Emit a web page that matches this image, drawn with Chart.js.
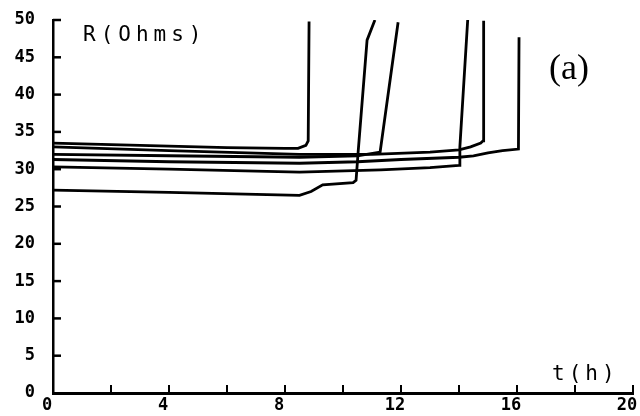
<!DOCTYPE html>
<html>
<head>
<meta charset="utf-8">
<script src="https://cdn.jsdelivr.net/npm/chart.js@4.4.1/dist/chart.umd.min.js"></script>
<style>
  html, body { margin: 0; padding: 0; background: #fff; overflow: hidden; }
  #wrap { width: 640px; height: 416px; position: relative; }
</style>
</head>
<body>
<div id="wrap"><canvas id="c" width="640" height="416"></canvas></div>
<script>
// ---- data ----
const xTickValues = [2, 4, 6, 8, 10, 12, 14, 16, 18, 20];
const xLabelValues = [0, 4, 8, 12, 16, 20];
const yTickValues = [5, 10, 15, 20, 25, 30, 35, 40, 45, 50];

const curveA_t = [0, 2, 4, 6, 8, 8.45, 8.72, 8.8, 8.83];
const curveA_R = [33.5, 33.3, 33.1, 32.9, 32.8, 32.8, 33.2, 33.8, 49.8];

const curveI_t = [0, 4, 8.5, 11, 13, 14, 14.4, 14.75, 14.83, 14.85];
const curveI_R = [33.0, 32.5, 32.0, 32.0, 32.3, 32.6, 33.0, 33.5, 33.8, 49.9];

const curveG_t = [0, 4, 8.5, 10.5, 11.28, 11.9];
const curveG_R = [32.0, 31.8, 31.6, 31.8, 32.3, 49.7];

const curveJ_t = [0, 4, 8.5, 10.5, 12, 14, 14.5, 15, 15.5, 16.05, 16.07];
const curveJ_R = [31.3, 31.0, 30.8, 31.0, 31.3, 31.6, 31.8, 32.2, 32.5, 32.7, 47.7];

const curveD_t = [0, 4, 8.5, 11.3, 13, 14.0, 14.03, 14.3];
const curveD_R = [30.3, 30.0, 29.6, 29.9, 30.2, 30.5, 33.0, 50];

const curveE_t = [0, 4, 8.5, 8.9, 9.3, 10.35, 10.45, 10.52, 10.83, 11.1];
const curveE_R = [27.2, 26.9, 26.5, 27.0, 27.9, 28.2, 28.5, 32.2, 47.3, 50];

const curves = [
  [curveA_t, curveA_R], [curveI_t, curveI_R], [curveG_t, curveG_R],
  [curveJ_t, curveJ_R], [curveD_t, curveD_R], [curveE_t, curveE_R]
];

const tickFont = { family: 'DejaVu Sans Mono', size: 17, weight: 'bold', lineHeight: 0.1 };

const datasets = curves.map(([t, r]) => ({
  data: t.map((v, i) => ({ x: v, y: r[i] })),
  showLine: true,
  borderColor: '#000',
  borderWidth: 2.8,
  pointRadius: 0,
  tension: 0,
  fill: false
}));

const innerTicks = {
  id: 'innerTicks',
  afterDraw(chart) {
    const ctx = chart.ctx;
    const xs = chart.scales.x, ys = chart.scales.y;
    const a = chart.chartArea;
    ctx.save();
    ctx.strokeStyle = '#000';
    ctx.lineWidth = 2;
    xTickValues.forEach(v => {
      const px = xs.getPixelForValue(v);
      ctx.beginPath(); ctx.moveTo(px, a.bottom); ctx.lineTo(px, a.bottom - 8); ctx.stroke();
    });
    ctx.lineWidth = 2.5;
    yTickValues.forEach(v => {
      const py = ys.getPixelForValue(v);
      ctx.beginPath(); ctx.moveTo(a.left, py); ctx.lineTo(a.left + 8, py); ctx.stroke();
    });
    ctx.fillStyle = '#000';
    // x tick labels (positions from the x scale)
    ctx.font = 'bold 17px "DejaVu Sans Mono"';
    ctx.textAlign = 'center';
    ctx.textBaseline = 'middle';
    xLabelValues.forEach(v => {
      ctx.fillText(String(v), xs.getPixelForValue(v) - 6, a.bottom + 13);
    });
    // axis texts
    ctx.textAlign = 'left';
    ctx.font = '21px "DejaVu Sans Mono"';
    ctx.letterSpacing = '5px';
    ctx.fillText('R(Ohms)', 83, 36);
    ctx.letterSpacing = '4px';
    ctx.fillText('t(h)', 552, 375);
    ctx.letterSpacing = '0px';
    ctx.font = '36px "Liberation Serif"';
    ctx.fillText('(a)', 549, 70);
    ctx.restore();
  }
};

new Chart(document.getElementById('c'), {
  type: 'scatter',
  data: { datasets },
  options: {
    responsive: false,
    animation: false,
    events: [],
    layout: { padding: { top: 20, right: 7, left: 0, bottom: 0 } },
    plugins: { legend: { display: false }, tooltip: { enabled: false }, title: { display: false } },
    scales: {
      x: {
        type: 'linear', min: 0, max: 20,
        afterFit(s) { s.height = 23; },
        border: { display: true, color: '#000', width: 3 },
        grid: { display: false, drawTicks: false },
        ticks: { display: false, stepSize: 2 }
      },
      y: {
        type: 'linear', min: 0, max: 50,
        afterFit(s) { s.width = 53; },
        border: { display: true, color: '#000', width: 2.5 },
        grid: { display: false, drawTicks: false },
        ticks: { stepSize: 5, color: '#000', font: tickFont, padding: 18 }
      }
    }
  },
  plugins: [innerTicks]
});
</script>
</body>
</html>
